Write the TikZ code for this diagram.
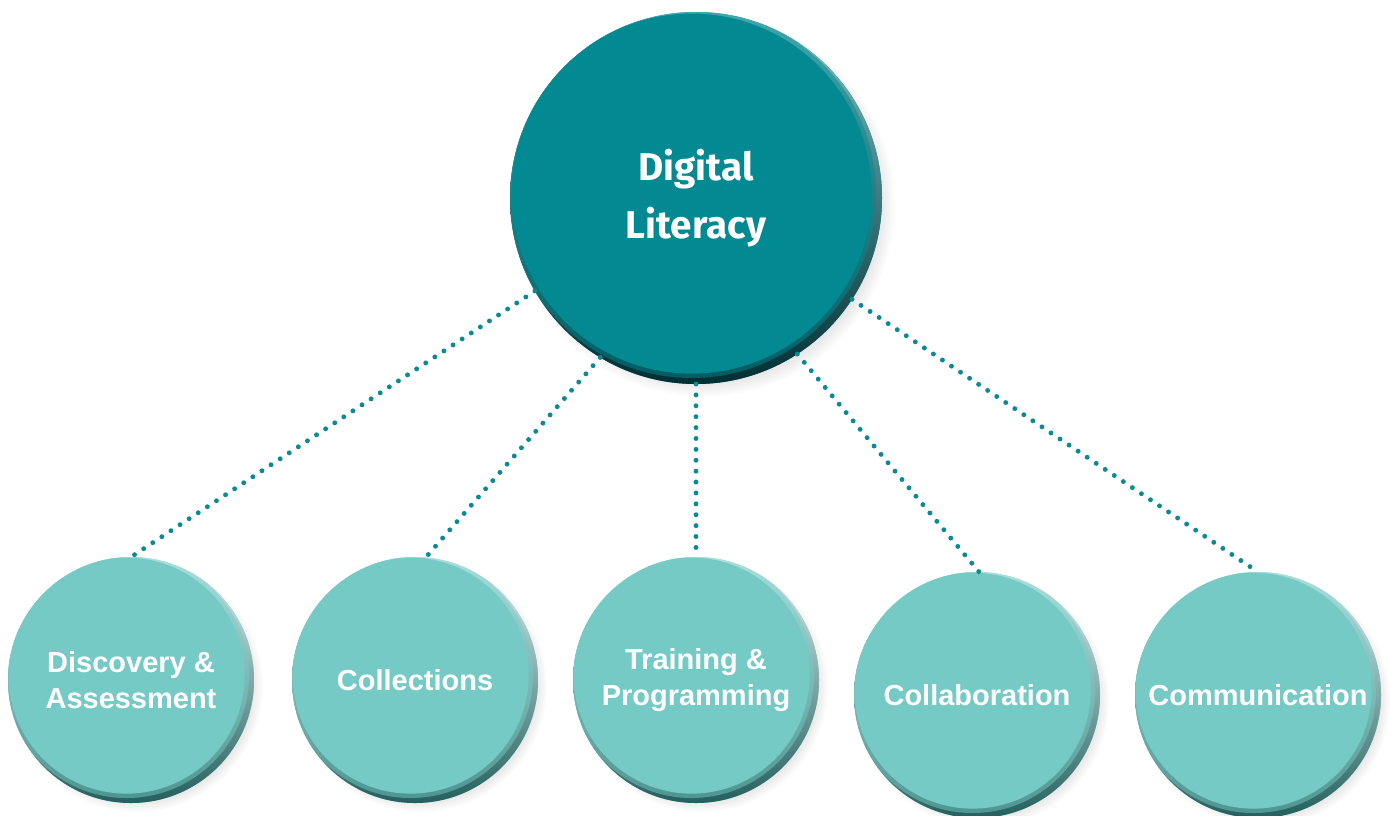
\documentclass[tikz,border=0pt]{standalone}
\usepackage{fontspec}
\setmainfont{Liberation Sans}
\newfontfamily\firafont{Fira Sans}
\usetikzlibrary{shadows}

\definecolor{darkteal}{HTML}{028991}
\definecolor{tealrimlt}{HTML}{7CC6CA}
\definecolor{tealrimdk}{HTML}{002E33}
\definecolor{lightteal}{HTML}{76CAC6}
\definecolor{lightrimlt}{HTML}{DDF3F2}
\definecolor{lightrimdk}{HTML}{24605E}
\definecolor{dotteal}{HTML}{0A8A92}

\begin{document}
\begin{tikzpicture}[
bevel/.style n args={4}{path picture={
  \shade[shading angle=45, top color=#2, middle color=#1, bottom color=#3]
    (path picture bounding box.south west) rectangle (path picture bounding box.north east);
  \fill[#1, opacity=.5] ([shift={(-2.5pt,2.5pt)}]path picture bounding box.center) circle (#4+2.5pt);
  \fill[#1] ([shift={(-2.5pt,2.5pt)}]path picture bounding box.center) circle (#4);
}},
big/.style={circle, fill=darkteal, minimum size=7.44cm, inner sep=0pt, outer sep=0pt,
  text=white, align=center, font=\firafont\bfseries\fontsize{22}{33}\selectfont,
  circular drop shadow={shadow xshift=4pt, shadow yshift=-4pt, opacity=.35, shadow scale=1.03},
  bevel={darkteal}{tealrimlt}{tealrimdk}{3.6cm}},
small/.style={circle, fill=lightteal, minimum size=4.92cm, inner sep=0pt, outer sep=0pt,
  text=white, align=center, font=\bfseries\fontsize{16.5}{20.5}\selectfont,
  circular drop shadow={shadow xshift=3pt, shadow yshift=-3pt, opacity=.3, shadow scale=1.03},
  bevel={lightteal}{lightrimlt}{lightrimdk}{2.36cm}},
link/.style={draw=dotteal, line width=2.8pt, line cap=round, dash pattern=on 0pt off 6.2pt},
]
\useasboundingbox (0,0) rectangle (27.8,-16.3);

\node[big] (lit) at (13.92,-3.96) {Digital\\Literacy};

\node[small] (disc) at (2.62,-13.6) {Discovery \&\\Assessment};
\node[small] (coll) at (8.30,-13.6) {Collections};
\node[small] (train) at (13.92,-13.6) {Training \&\\Programming};
\node[small] (collab) at (19.54,-13.9) {Collaboration};
\node[small] (comm) at (25.16,-13.9) {Communication};

\path[link]
(lit.210) -- (disc.north)
(lit.239) -- (coll.85)
(lit.south) -- (train.north)
(lit.303) -- (collab.89)
(lit.327) -- (comm.north)
;
\end{tikzpicture}
\end{document}
